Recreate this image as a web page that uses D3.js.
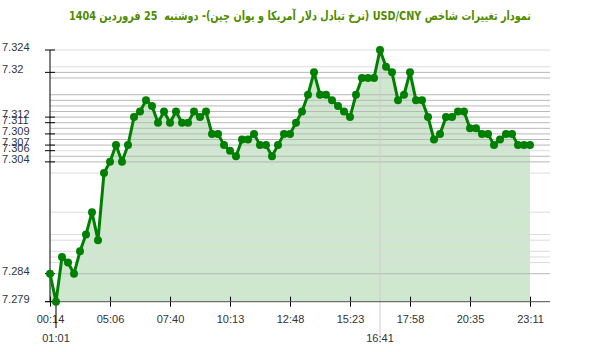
<!DOCTYPE html>
<html>
<head>
<meta charset="utf-8">
<script src="https://cdn.jsdelivr.net/npm/d3@7"></script>
<style>
  body { margin: 0; background: #fff; }
  svg text { font-family: "Liberation Sans", Arial, sans-serif; }
</style>
</head>
<body>
<div id="chart"></div>
<script>
// chart data
var titleText = "نمودار تغییرات شاخص USD/CNY (نرخ تبادل دلار آمریکا و یوان چین)- دوشنبه  25 فروردین 1404";

var values = [
  7.284, 7.279, 7.287, 7.286, 7.284, 7.288, 7.291, 7.295, 7.290, 7.302,
  7.304, 7.307, 7.304, 7.307, 7.312, 7.313, 7.315, 7.314, 7.311, 7.313,
  7.311, 7.313, 7.311, 7.311, 7.313, 7.312, 7.313, 7.309, 7.309, 7.307,
  7.306, 7.305, 7.308, 7.308, 7.309, 7.307, 7.307, 7.305, 7.307, 7.309,
  7.309, 7.311, 7.313, 7.316, 7.320, 7.316, 7.316, 7.315, 7.314, 7.313,
  7.312, 7.316, 7.319, 7.319, 7.319, 7.324, 7.321, 7.320, 7.315, 7.316,
  7.320, 7.315, 7.315, 7.312, 7.308, 7.309, 7.312, 7.312, 7.313, 7.313,
  7.310, 7.310, 7.309, 7.309, 7.307, 7.308, 7.309, 7.309, 7.307, 7.307,
  7.307
];

var xTickIndex = [0, 10, 20, 30, 40, 50, 60, 70, 80];
var xTickLabels = ["00:14", "05:06", "07:40", "10:13", "12:48", "15:23", "17:58", "20:35", "23:11"];

var yTicks = [7.324, 7.32, 7.312, 7.311, 7.309, 7.307, 7.306, 7.304, 7.284, 7.279];

// min / max markers
var minIndex = 1, minLabel = "01:01";
var maxIndex = 55, maxLabel = "16:41";

var w = 600, h = 352;
var green = "#008000";

var svg = d3.select("#chart").append("svg")
    .attr("width", w)
    .attr("height", h);

var x = d3.scaleLinear().domain([0, values.length - 1]).range([50, 530]);
var y = d3.scaleLinear().domain([7.279, 7.324]).range([301.7, 50]);

// title
svg.append("text")
    .attr("x", 300)
    .attr("y", 20)
    .attr("text-anchor", "middle")
    .attr("direction", "rtl")
    .attr("textLength", 462)
    .attr("lengthAdjust", "spacingAndGlyphs")
    .style("white-space", "pre")
    .style("font-family", "Tahoma, 'DejaVu Sans', sans-serif")
    .style("font-weight", "bold")
    .style("font-size", "12.5px")
    .attr("fill", "#4f8c00")
    .text(titleText);

// area under line
var area = d3.area()
    .x(function (d, i) { return x(i); })
    .y0(y(7.279))
    .y1(function (d) { return y(d); });

svg.append("path")
    .datum(values)
    .attr("d", area)
    .attr("fill", "rgba(0,128,0,0.19)");

// gridline at every value, darker when the value repeats
var counts = d3.rollups(values, function (v) { return v.length; }, function (d) { return d; });
svg.append("g")
    .selectAll("line")
    .data(counts)
    .enter().append("line")
    .attr("x1", 50)
    .attr("x2", 550)
    .attr("y1", function (d) { return y(d[0]); })
    .attr("y2", function (d) { return y(d[0]); })
    .attr("stroke", function (d) { return d[1] > 1 ? "#b8b8b8" : "#dcdcdc"; });

// max marker line
svg.append("line")
    .attr("x1", x(maxIndex)).attr("x2", x(maxIndex))
    .attr("y1", 45).attr("y2", 343)
    .attr("stroke", "#ccc");

// x axis
var xAxis = svg.append("g")
    .attr("transform", "translate(0," + y(7.279) + ")")
    .call(d3.axisBottom(x)
        .tickValues(xTickIndex)
        .tickFormat(function (d, i) { return xTickLabels[i]; })
        .tickSizeOuter(0));
xAxis.select(".domain").remove();
xAxis.append("line")
    .attr("x1", 45).attr("x2", 550)
    .attr("stroke", "#555");
xAxis.selectAll(".tick line")
    .attr("y1", -5).attr("y2", 5)
    .attr("stroke", "#000");
xAxis.selectAll(".tick text")
    .attr("y", 14)
    .attr("fill", "#333")
    .style("font-size", "11px");

// min marker
svg.append("line")
    .attr("x1", x(minIndex)).attr("x2", x(minIndex))
    .attr("y1", y(7.279)).attr("y2", 328)
    .attr("stroke", "#000");
svg.selectAll(".mark-label")
    .data([[minIndex, minLabel], [maxIndex, maxLabel]])
    .enter().append("text")
    .attr("class", "mark-label")
    .attr("x", function (d) { return x(d[0]); })
    .attr("y", 342)
    .attr("text-anchor", "middle")
    .attr("fill", "#333")
    .style("font-size", "11px")
    .text(function (d) { return d[1]; });

// y axis
var yAxis = svg.append("g");
yAxis.append("line")
    .attr("x1", 50).attr("x2", 50)
    .attr("y1", y(7.324)).attr("y2", y(7.279))
    .attr("stroke", "#000");
yAxis.selectAll(".ytick")
    .data(yTicks)
    .enter().append("line")
    .attr("class", "ytick")
    .attr("x1", 45).attr("x2", 55)
    .attr("y1", function (d) { return y(d); })
    .attr("y2", function (d) { return y(d); })
    .attr("stroke", "#000");
yAxis.selectAll(".ylabel")
    .data(yTicks)
    .enter().append("text")
    .attr("class", "ylabel")
    .attr("x", 2)
    .attr("y", function (d) { return y(d) + 1; })
    .attr("fill", "#334")
    .style("font-size", "11px")
    .text(function (d) { return d; });

// line and points
var line = d3.line()
    .x(function (d, i) { return x(i); })
    .y(function (d) { return y(d); });

svg.append("path")
    .datum(values)
    .attr("d", line)
    .attr("fill", "none")
    .attr("stroke", green)
    .attr("stroke-width", 3)
    .attr("stroke-linejoin", "round");

svg.selectAll(".dot")
    .data(values)
    .enter().append("circle")
    .attr("class", "dot")
    .attr("cx", function (d, i) { return x(i); })
    .attr("cy", function (d) { return y(d); })
    .attr("r", 4)
    .attr("fill", green);
</script>
</body>
</html>
